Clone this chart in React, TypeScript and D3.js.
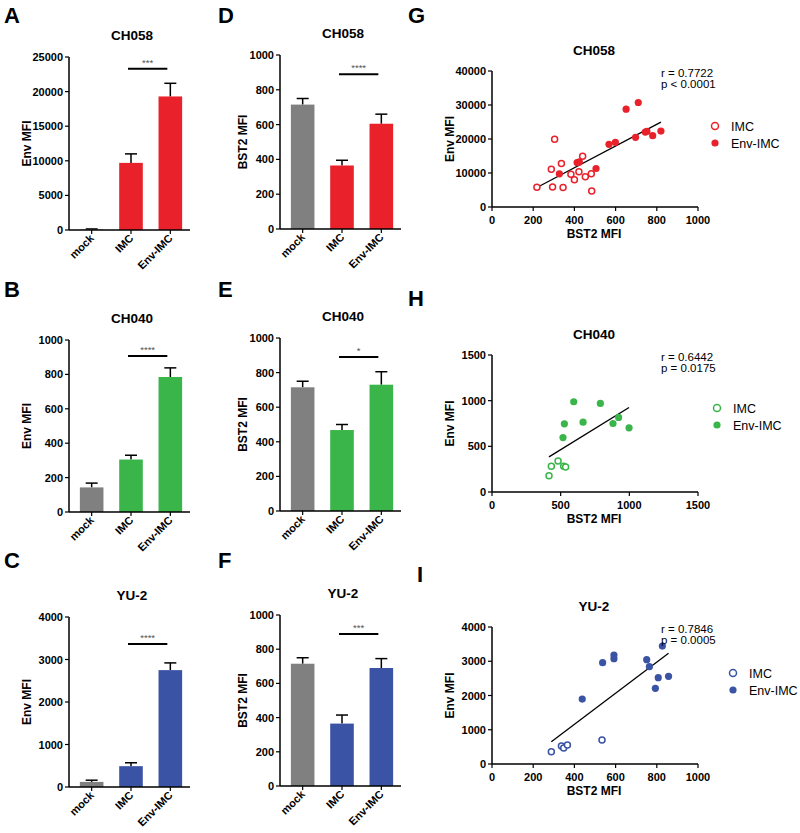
import React from "react";
import * as d3 from "d3";

// ---------- DATA ----------
const groups = ["mock", "IMC", "Env-IMC"];

const envMeanCH058 = [60, 9700, 19300];
const envTopCH058 = [150, 11000, 21200];
const envMeanCH040 = [143, 305, 785];
const envTopCH040 = [168, 330, 838];
const envMeanYU2 = [120, 490, 2750];
const envTopYU2 = [160, 570, 2920];

const bstMeanCH058 = [715, 365, 605];
const bstTopCH058 = [750, 395, 660];
const bstMeanCH040 = [715, 468, 730];
const bstTopCH040 = [750, 500, 805];
const bstMeanYU2 = [715, 365, 690];
const bstTopYU2 = [750, 415, 745];

// scatter CH058
const g_imcX = [218, 304, 294, 288, 337, 345, 383, 400, 422, 440, 453, 482, 484];
const g_imcY = [5800, 19900, 5850, 11100, 12800, 5750, 9660, 8000, 10340, 14930, 8880, 9760, 4680];
const g_envX = [327, 413, 424, 505, 568, 599, 651, 710, 697, 744, 752, 780, 820];
const g_envY = [9760, 13070, 13270, 11320, 18440, 19020, 28780, 30730, 20490, 22050, 22240, 20980, 22340];
const g_fit = [31.98, -1250];

// scatter CH040
const h_imcX = [415, 432, 481, 522, 536];
const h_imcY = [179, 282, 340, 282, 274];
const h_envX = [517, 527, 595, 663, 789, 881, 922, 998];
const h_envY = [596, 746, 988, 765, 970, 750, 816, 703];
const h_fit = [0.929, -1.5];

// scatter YU-2
const i_imcX = [288, 337, 348, 366, 534];
const i_imcY = [360, 525, 467, 555, 700];
const i_envX = [438, 537, 592, 592, 751, 764, 827, 793, 807, 857];
const i_envY = [1897, 2958, 3182, 3075, 3045, 2841, 3444, 2209, 2520, 2559];
const i_fit = [4.54, -659];

const RED = "#E8212B";
const GREEN = "#3AB54A";
const BLUE = "#3A53A5";
const GRAY = "#808080";
const FONT = "'Liberation Sans', Arial, sans-serif";

// ---------- COMPONENTS ----------
type BarProps = {
  letter: string; letterX: number; letterY: number;
  title: string; yLabel: string;
  axisX: number; top: number; height: number;
  yMax: number; yStep: number;
  mean: number[]; topv: number[]; color: string;
  sig: string; sigY: number; yLabelX: number;
};

function BarPanel(p: BarProps) {
  const bottom = p.top + p.height;
  const y = d3.scaleLinear().domain([0, p.yMax]).range([bottom, p.top]);
  const x = d3.scaleBand().domain(groups).range([p.axisX + 3, p.axisX + 121]).paddingInner(0.4).paddingOuter(0.2);
  const bw = x.bandwidth();
  const ticks = d3.range(0, p.yMax + 1, p.yStep);
  const cx = (g: string) => (x(g) as number) + bw / 2;
  return (
    <g fontFamily={FONT}>
      <text x={p.letterX} y={p.letterY} fontSize={22} fontWeight="bold">{p.letter}</text>
      <text x={p.axisX + 63} y={p.top - 17} fontSize={13.5} fontWeight="bold" textAnchor="middle">{p.title}</text>
      {groups.map((g, i) => {
        const c = i === 0 ? GRAY : p.color;
        return (
          <g key={g}>
            <line x1={cx(g)} x2={cx(g)} y1={y(p.mean[i])} y2={y(p.topv[i])} stroke="#000" strokeWidth={1.5} />
            <line x1={cx(g) - 6} x2={cx(g) + 6} y1={y(p.topv[i])} y2={y(p.topv[i])} stroke="#000" strokeWidth={1.5} />
            <rect x={x(g)} y={y(p.mean[i])} width={bw} height={bottom - y(p.mean[i])} fill={c} />
          </g>
        );
      })}
      <line x1={p.axisX} x2={p.axisX} y1={p.top} y2={bottom} stroke="#000" strokeWidth={1.5} />
      <line x1={p.axisX} x2={p.axisX + 121} y1={bottom} y2={bottom} stroke="#000" strokeWidth={1.5} />
      {ticks.map(t => (
        <g key={t}>
          <line x1={p.axisX - 4} x2={p.axisX} y1={y(t)} y2={y(t)} stroke="#000" strokeWidth={1.2} />
          <text x={p.axisX - 6} y={y(t) + 4} fontSize={11} fontWeight="bold" textAnchor="end">{t}</text>
        </g>
      ))}
      {groups.map(g => (
        <g key={g}>
          <line x1={cx(g)} x2={cx(g)} y1={bottom} y2={bottom + 4} stroke="#000" strokeWidth={1.2} />
          <text transform={`translate(${cx(g) + 3},${bottom + 9}) rotate(-45)`} fontSize={11} fontWeight="bold" textAnchor="end">{g}</text>
        </g>
      ))}
      <text transform={`translate(${p.yLabelX},${(p.top + bottom) / 2}) rotate(-90)`} fontSize={12} fontWeight="bold" textAnchor="middle">{p.yLabel}</text>
      <line x1={cx("IMC") - 3} x2={cx("Env-IMC") - 3} y1={y(p.sigY)} y2={y(p.sigY)} stroke="#000" strokeWidth={2} />
      <text x={(cx("IMC") + cx("Env-IMC")) / 2 - 3} y={y(p.sigY) - 3} fontSize={9.5} fill="#555" textAnchor="middle">{p.sig}</text>
    </g>
  );
}

type ScatProps = {
  letter: string; letterX: number; letterY: number;
  title: string; top: number; bottom: number;
  xMax: number; xStep: number; yMax: number; yStep: number;
  imcX: number[]; imcY: number[]; envX: number[]; envY: number[];
  fit: number[]; color: string; r: string; pv: string;
  legX: number; legY: number;
};

function ScatterPanel(p: ScatProps) {
  const left = 492, right = 698;
  const x = d3.scaleLinear().domain([0, p.xMax]).range([left, right]);
  const y = d3.scaleLinear().domain([0, p.yMax]).range([p.bottom, p.top]);
  const allX = [...p.imcX, ...p.envX];
  const x0 = d3.min(allX) as number, x1 = d3.max(allX) as number;
  const xt = d3.range(0, p.xMax + 1, p.xStep);
  const yt = d3.range(0, p.yMax + 1, p.yStep);
  return (
    <g fontFamily={FONT}>
      <text x={p.letterX} y={p.letterY} fontSize={22} fontWeight="bold">{p.letter}</text>
      <text x={594} y={p.top - 16} fontSize={13.5} fontWeight="bold" textAnchor="middle">{p.title}</text>
      <line x1={left} x2={left} y1={p.top} y2={p.bottom} stroke="#000" strokeWidth={1.5} />
      <line x1={left} x2={right} y1={p.bottom} y2={p.bottom} stroke="#000" strokeWidth={1.5} />
      {yt.map(t => (
        <g key={t}>
          <line x1={left - 4} x2={left} y1={y(t)} y2={y(t)} stroke="#000" strokeWidth={1.2} />
          <text x={left - 6} y={y(t) + 4} fontSize={11} fontWeight="bold" textAnchor="end">{t}</text>
        </g>
      ))}
      {xt.map(t => (
        <g key={t}>
          <line x1={x(t)} x2={x(t)} y1={p.bottom} y2={p.bottom + 4} stroke="#000" strokeWidth={1.2} />
          <text x={x(t)} y={p.bottom + 17} fontSize={11} fontWeight="bold" textAnchor="middle">{t}</text>
        </g>
      ))}
      <text x={594} y={p.bottom + 31} fontSize={12} fontWeight="bold" textAnchor="middle">BST2 MFI</text>
      <text transform={`translate(454,${(p.top + p.bottom) / 2}) rotate(-90)`} fontSize={12} fontWeight="bold" textAnchor="middle">Env MFI</text>
      <line x1={x(x0)} x2={x(x1)} y1={y(p.fit[0] * x0 + p.fit[1])} y2={y(p.fit[0] * x1 + p.fit[1])} stroke="#000" strokeWidth={1.3} />
      {p.imcX.map((v, i) => (
        <circle key={"o" + i} cx={x(v)} cy={y(p.imcY[i])} r={3} fill="#fff" stroke={p.color} strokeWidth={1.5} />
      ))}
      {p.envX.map((v, i) => (
        <circle key={"f" + i} cx={x(v)} cy={y(p.envY[i])} r={3.6} fill={p.color} />
      ))}
      <text x={661} y={p.top + 6} fontSize={11.5}>{p.r}</text>
      <text x={661} y={p.top + 17} fontSize={11.5}>{p.pv}</text>
      <circle cx={p.legX} cy={p.legY} r={3.5} fill="#fff" stroke={p.color} strokeWidth={1.5} />
      <text x={p.legX + 16} y={p.legY + 5} fontSize={12.5}>IMC</text>
      <circle cx={p.legX} cy={p.legY + 17} r={3.6} fill={p.color} />
      <text x={p.legX + 16} y={p.legY + 22} fontSize={12.5}>Env-IMC</text>
    </g>
  );
}

export default function App() {
  const colA = 69, colD = 280;
  return (
    <svg width={800} height={833} style={{ position: "absolute", left: 0, top: 0, background: "#fff" }}>
      <rect width={800} height={833} fill="#fff" />
      <BarPanel letter="A" letterX={4} letterY={23} title="CH058" yLabel="Env MFI" axisX={colA} top={57} height={173}
        yMax={25000} yStep={5000} mean={envMeanCH058} topv={envTopCH058} color={RED} sig="***" sigY={23300} yLabelX={31} />
      <BarPanel letter="B" letterX={4} letterY={297} title="CH040" yLabel="Env MFI" axisX={colA} top={340} height={172}
        yMax={1000} yStep={200} mean={envMeanCH040} topv={envTopCH040} color={GREEN} sig="****" sigY={907} yLabelX={31} />
      <BarPanel letter="C" letterX={4} letterY={568} title="YU-2" yLabel="Env MFI" axisX={colA} top={617} height={170}
        yMax={4000} yStep={1000} mean={envMeanYU2} topv={envTopYU2} color={BLUE} sig="****" sigY={3365} yLabelX={31} />
      <BarPanel letter="D" letterX={218} letterY={23} title="CH058" yLabel="BST2 MFI" axisX={colD} top={55} height={174}
        yMax={1000} yStep={200} mean={bstMeanCH058} topv={bstTopCH058} color={RED} sig="****" sigY={890} yLabelX={247} />
      <BarPanel letter="E" letterX={218} letterY={297} title="CH040" yLabel="BST2 MFI" axisX={colD} top={338} height={173}
        yMax={1000} yStep={200} mean={bstMeanCH040} topv={bstTopCH040} color={GREEN} sig="*" sigY={890} yLabelX={247} />
      <BarPanel letter="F" letterX={218} letterY={568} title="YU-2" yLabel="BST2 MFI" axisX={colD} top={615} height={171}
        yMax={1000} yStep={200} mean={bstMeanYU2} topv={bstTopYU2} color={BLUE} sig="***" sigY={889} yLabelX={247} />
      <ScatterPanel letter="G" letterX={408} letterY={23} title="CH058" top={71} bottom={207}
        xMax={1000} xStep={200} yMax={40000} yStep={10000}
        imcX={g_imcX} imcY={g_imcY} envX={g_envX} envY={g_envY} fit={g_fit} color={RED}
        r="r = 0.7722" pv="p < 0.0001" legX={715} legY={126} />
      <ScatterPanel letter="H" letterX={408} letterY={306} title="CH040" top={355} bottom={492}
        xMax={1500} xStep={500} yMax={1500} yStep={500}
        imcX={h_imcX} imcY={h_imcY} envX={h_envX} envY={h_envY} fit={h_fit} color={GREEN}
        r="r = 0.6442" pv="p = 0.0175" legX={717} legY={408} />
      <ScatterPanel letter="I" letterX={417} letterY={582} title="YU-2" top={627} bottom={764}
        xMax={1000} xStep={200} yMax={4000} yStep={1000}
        imcX={i_imcX} imcY={i_imcY} envX={i_envX} envY={i_envY} fit={i_fit} color={BLUE}
        r="r = 0.7846" pv="p = 0.0005" legX={733} legY={673} />
    </svg>
  );
}
